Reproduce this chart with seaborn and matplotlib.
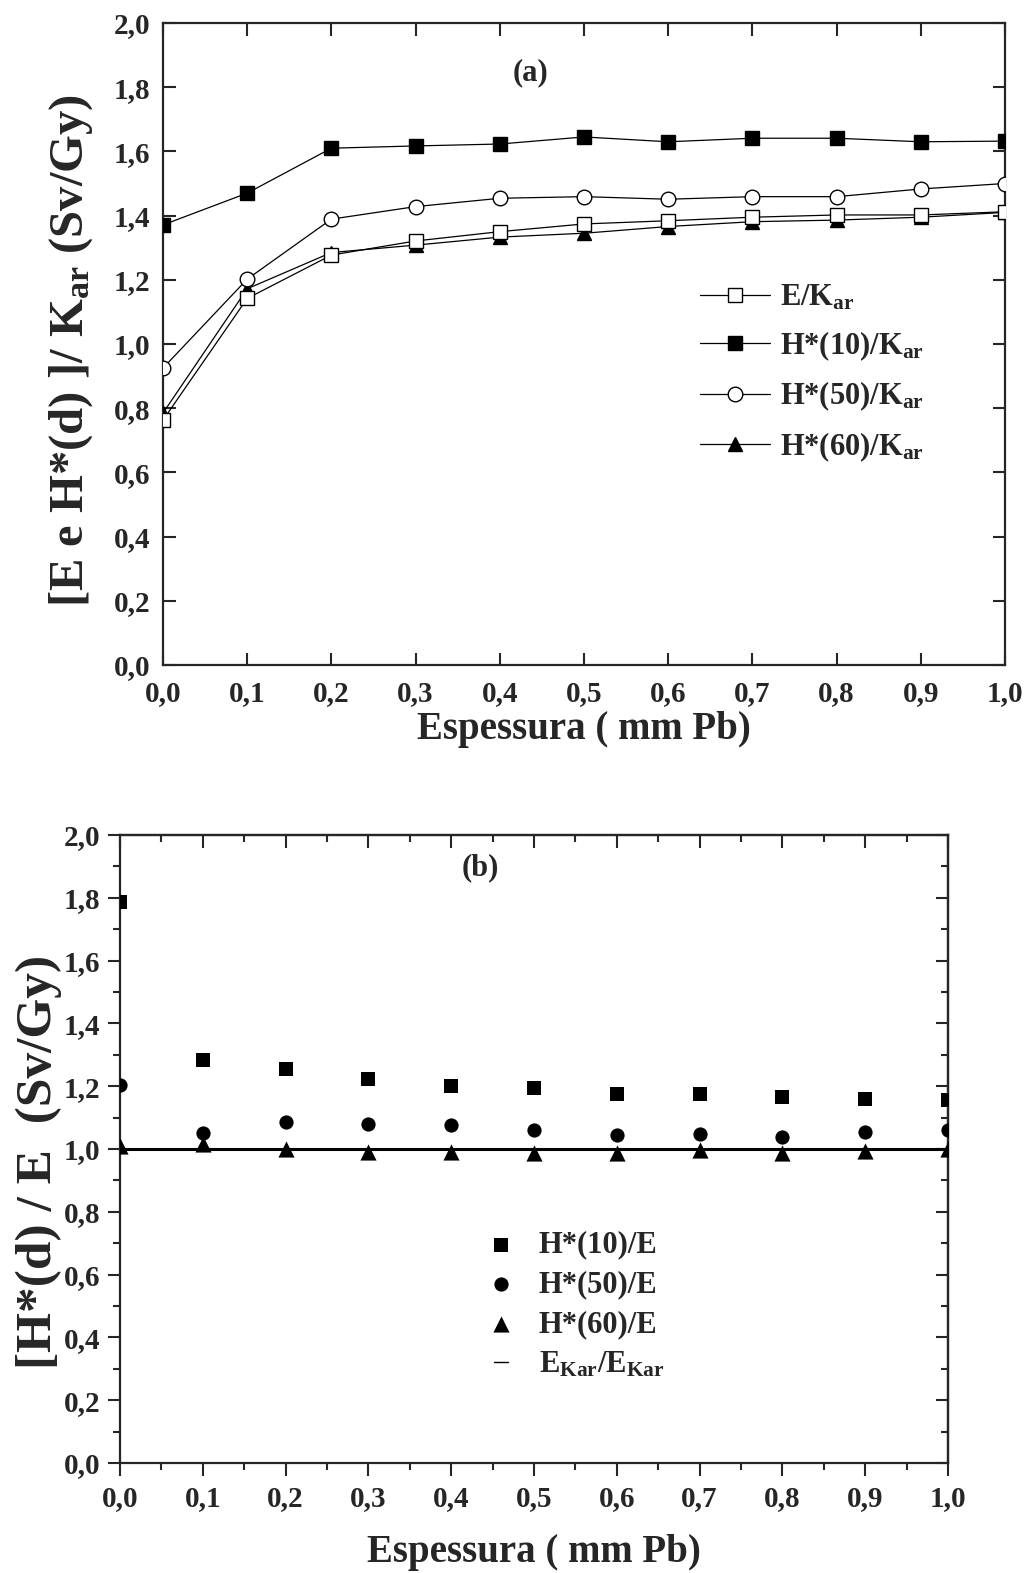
import numpy as np
import pandas as pd
import matplotlib
matplotlib.use("Agg")
import matplotlib.pyplot as plt
from matplotlib.ticker import FuncFormatter, MultipleLocator
import seaborn as sns

# ---------------- data ----------------
espessura = [0.0, 0.1, 0.2, 0.3, 0.4, 0.5, 0.6, 0.7, 0.8, 0.9, 1.0]

# panel (a)
e_kar   = [0.763, 1.142, 1.277, 1.321, 1.350, 1.374, 1.384, 1.395, 1.402, 1.402, 1.412]
h10_kar = [1.371, 1.470, 1.610, 1.617, 1.623, 1.645, 1.630, 1.641, 1.641, 1.630, 1.632]
h50_kar = [0.925, 1.202, 1.389, 1.428, 1.454, 1.459, 1.451, 1.459, 1.459, 1.483, 1.500]
h60_kar = [0.785, 1.172, 1.285, 1.308, 1.333, 1.345, 1.366, 1.381, 1.386, 1.395, 1.410]

# panel (b)
h10_e = [1.788, 1.283, 1.254, 1.222, 1.200, 1.193, 1.174, 1.175, 1.167, 1.159, 1.156]
h50_e = [1.204, 1.050, 1.085, 1.080, 1.075, 1.060, 1.045, 1.048, 1.039, 1.053, 1.060]
h60_e = [1.010, 1.015, 1.000, 0.990, 0.990, 0.986, 0.986, 0.998, 0.986, 0.994, 1.000]
ekar_ekar = [1.0] * 11

yticks = [0.0, 0.2, 0.4, 0.6, 0.8, 1.0, 1.2, 1.4, 1.6, 1.8, 2.0]
xticks = [0.0, 0.1, 0.2, 0.3, 0.4, 0.5, 0.6, 0.7, 0.8, 0.9, 1.0]

# ---------------- style ----------------
sns.set_theme(style="ticks")
plt.rcParams["font.family"] = ["Liberation Serif", "DejaVu Serif"]
plt.rcParams["font.weight"] = "bold"
plt.rcParams["mathtext.fontset"] = "custom"
plt.rcParams["mathtext.rm"] = "Liberation Serif:bold"
plt.rcParams["mathtext.bf"] = "Liberation Serif:bold"
plt.rcParams["mathtext.it"] = "Liberation Serif:bold:italic"
plt.rcParams["axes.linewidth"] = 1.6

fig = plt.figure(figsize=(10.26, 15.73), dpi=100)
ax1 = fig.add_axes([163 / 1026, 1 - 665 / 1573, 842 / 1026, 642 / 1573])
ax2 = fig.add_axes([120 / 1026, 1 - 1463 / 1573, 828 / 1026, 628 / 1573])

comma = FuncFormatter(lambda v, p: f"{v:.1f}".replace(".", ","))
TICKFS = 21

# ---------------- panel (a) ----------------
df_a = pd.DataFrame({"x": espessura, "E": e_kar, "H10": h10_kar,
                     "H50": h50_kar, "H60": h60_kar})
common = dict(color="black", linewidth=0.9, markeredgecolor="black",
              markeredgewidth=1.0)
sns.lineplot(data=df_a, x="x", y="H60", ax=ax1, marker="^", markersize=10,
             markerfacecolor="black", label=r"H*(60)/$\mathrm{K_{ar}}$",
             zorder=3, **common)
sns.lineplot(data=df_a, x="x", y="E", ax=ax1, marker="s", markersize=9.6,
             markerfacecolor="white", label=r"E/$\mathrm{K_{ar}}$", zorder=4,
             **common)
sns.lineplot(data=df_a, x="x", y="H10", ax=ax1, marker="s", markersize=9.6,
             markerfacecolor="black", label=r"H*(10)/$\mathrm{K_{ar}}$",
             zorder=4, **common)
sns.lineplot(data=df_a, x="x", y="H50", ax=ax1, marker="o", markersize=10.5,
             markerfacecolor="white", label=r"H*(50)/$\mathrm{K_{ar}}$",
             zorder=4, **common)

ax1.set_xlim(0, 1)
ax1.set_ylim(0, 2)
ax1.set_xticks(xticks)
ax1.set_yticks(yticks)
ax1.xaxis.set_major_formatter(comma)
ax1.yaxis.set_major_formatter(comma)
ax1.tick_params(axis="both", which="major", direction="in", length=9, width=1.5,
                top=True, right=True, labelsize=TICKFS)
ax1.tick_params(axis="x", pad=11)
ax1.tick_params(axis="y", pad=9)
for lab in ax1.get_xticklabels() + ax1.get_yticklabels():
    lab.set_fontweight("bold")
ax1.set_xlabel("Espessura ( mm Pb)", fontsize=28, fontweight="bold", labelpad=3)
ax1.set_ylabel(r"[E e H*(d) ]/ $\mathrm{K_{ar}}$ (Sv/Gy)", fontsize=35,
               fontweight="bold")
ax1.yaxis.set_label_coords(-0.081, 0.49)
ax1.text(0.436, 1.844, "(a)", fontsize=22, fontweight="bold",
         ha="center", va="center")

h, l = ax1.get_legend_handles_labels()
order = [1, 2, 3, 0]
leg1 = ax1.legend([h[i] for i in order], [l[i] for i in order],
                  loc="upper left", bbox_to_anchor=(0.638, 0.595),
                  frameon=False, fontsize=22, handlelength=2.3,
                  handletextpad=0.3, labelspacing=0.55, borderpad=0,
                  borderaxespad=0)
for t in leg1.get_texts():
    t.set_fontweight("bold")

# ---------------- panel (b) ----------------
df_b = pd.DataFrame({"x": espessura, "H10": h10_e, "H50": h50_e,
                     "H60": h60_e, "EK": ekar_ekar})
sns.scatterplot(data=df_b, x="x", y="H10", ax=ax2, marker="s", s=92,
                color="black", edgecolor="black", linewidth=0,
                label="H*(10)/E", zorder=4)
sns.scatterplot(data=df_b, x="x", y="H50", ax=ax2, marker="o", s=105,
                color="black", edgecolor="black", linewidth=0,
                label="H*(50)/E", zorder=4)
sns.scatterplot(data=df_b, x="x", y="H60", ax=ax2, marker="^", s=135,
                color="black", edgecolor="black", linewidth=0,
                label="H*(60)/E", zorder=4)
sns.lineplot(data=df_b, x="x", y="EK", ax=ax2, color="black", linewidth=2.2,
             label=r"$\mathrm{E_{Kar}}$/$\mathrm{E_{Kar}}$", zorder=3)

ax2.set_xlim(0, 1)
ax2.set_ylim(0, 2)
ax2.set_xticks(xticks)
ax2.set_yticks(yticks)
ax2.xaxis.set_minor_locator(MultipleLocator(0.05))
ax2.yaxis.set_minor_locator(MultipleLocator(0.1))
ax2.xaxis.set_major_formatter(comma)
ax2.yaxis.set_major_formatter(comma)
ax2.tick_params(axis="both", which="major", direction="out", length=9,
                width=1.5, labelsize=TICKFS, pad=5)
ax2.tick_params(axis="x", which="major", pad=7)
ax2.tick_params(axis="both", which="minor", direction="out", length=5,
                width=1.5)
# inner ticks on top/right
ax2t = ax2.secondary_xaxis("top")
ax2t.set_xticks(xticks)
ax2t.xaxis.set_minor_locator(MultipleLocator(0.05))
ax2t.tick_params(which="major", direction="in", length=9, width=1.5,
                 labeltop=False)
ax2t.tick_params(which="minor", direction="in", length=5, width=1.5)
ax2r = ax2.secondary_yaxis("right")
ax2r.set_yticks(yticks)
ax2r.yaxis.set_minor_locator(MultipleLocator(0.1))
ax2r.tick_params(which="major", direction="in", length=9, width=1.5,
                 labelright=False)
ax2r.tick_params(which="minor", direction="in", length=5, width=1.5)
ax2t.spines["top"].set_linewidth(1.6)
ax2r.spines["right"].set_linewidth(1.6)

for lab in ax2.get_xticklabels() + ax2.get_yticklabels():
    lab.set_fontweight("bold")
ax2.set_xlabel("Espessura ( mm Pb)", fontsize=28, fontweight="bold",
               labelpad=16)
ax2.set_ylabel("[H*(d) / E  (Sv/Gy)", fontsize=37, fontweight="bold")
ax2.yaxis.set_label_coords(-0.07, 0.48)
ax2.text(0.435, 1.895, "(b)", fontsize=22, fontweight="bold",
         ha="center", va="center")

leg2 = ax2.legend(loc="upper left", bbox_to_anchor=(0.452, 0.37),
                  frameon=False, fontsize=22, handlelength=0.45,
                  handletextpad=1.0, labelspacing=0.35, borderpad=0,
                  borderaxespad=0)
for t in leg2.get_texts():
    t.set_fontweight("bold")
for ln in leg2.get_lines():
    ln.set_linewidth(1.0)

fig.savefig("out.png", dpi=100)
